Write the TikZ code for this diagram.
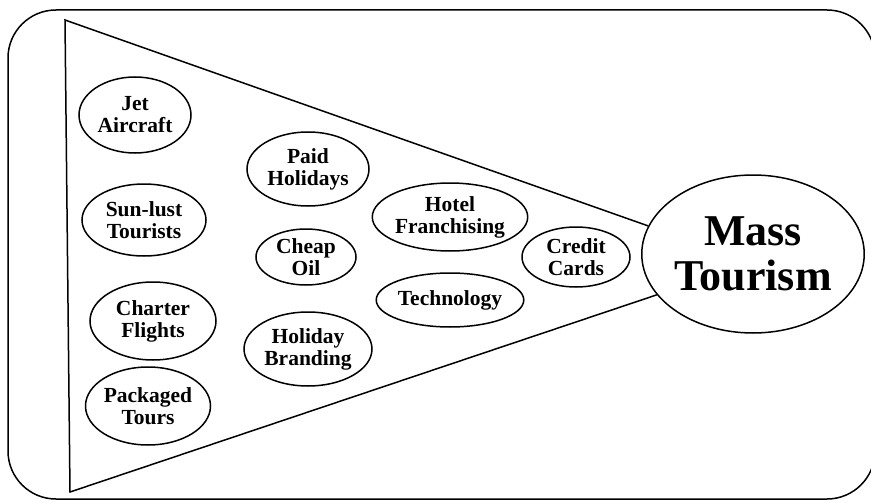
\documentclass[tikz,border=0pt]{standalone}
\usepackage{fontspec}
\setmainfont{Liberation Serif}
\usetikzlibrary{shapes.geometric}
\begin{document}
\begin{tikzpicture}[x=1pt,y=-1pt,line width=1.5pt,
  factor/.style={ellipse,draw,inner sep=0pt,align=center,
    font=\bfseries\fontsize{21.5}{22}\selectfont},
  bigfactor/.style={ellipse,draw,inner sep=0pt,align=center,
    font=\bfseries\fontsize{44}{45}\selectfont}]
\useasboundingbox (0,0) rectangle (871,503);
\draw[rounded corners=48pt] (8,10) rectangle (875,499);
\node[bigfactor,minimum width=220pt,minimum height=158pt] (mass) at (753,254) {Mass\\Tourism};
\coordinate (ta) at (65,20);
\coordinate (tb) at (70,492);
\draw (mass.165) -- (ta) -- (tb) -- (mass.203);
\node[factor,minimum width=112pt,minimum height=76pt] (jet) at (135,115) {Jet\\Aircraft};
\node[factor,minimum width=124pt,minimum height=72pt] (sun) at (144,220) {Sun-lust\\Tourists};
\node[factor,minimum width=126pt,minimum height=78pt] (charter) at (153,321) {Charter\\Flights};
\node[factor,minimum width=124pt,minimum height=78pt] (pack) at (148,406) {Packaged\\Tours};
\node[factor,minimum width=122pt,minimum height=74pt] (paid) at (308,169) {Paid\\Holidays};
\node[factor,minimum width=100pt,minimum height=56pt] (oil) at (306,257) {Cheap\\Oil};
\node[factor,minimum width=128pt,minimum height=74pt] (brand) at (308,349) {Holiday\\Branding};
\node[factor,minimum width=146pt,minimum height=68pt] (hotel) at (450,217) {Hotel\\Franchising};
\node[factor,minimum width=144pt,minimum height=54pt] (tech) at (450,300) {Technology};
\node[factor,minimum width=108pt,minimum height=60pt] (credit) at (576,257) {Credit\\Cards};
\end{tikzpicture}
\end{document}
